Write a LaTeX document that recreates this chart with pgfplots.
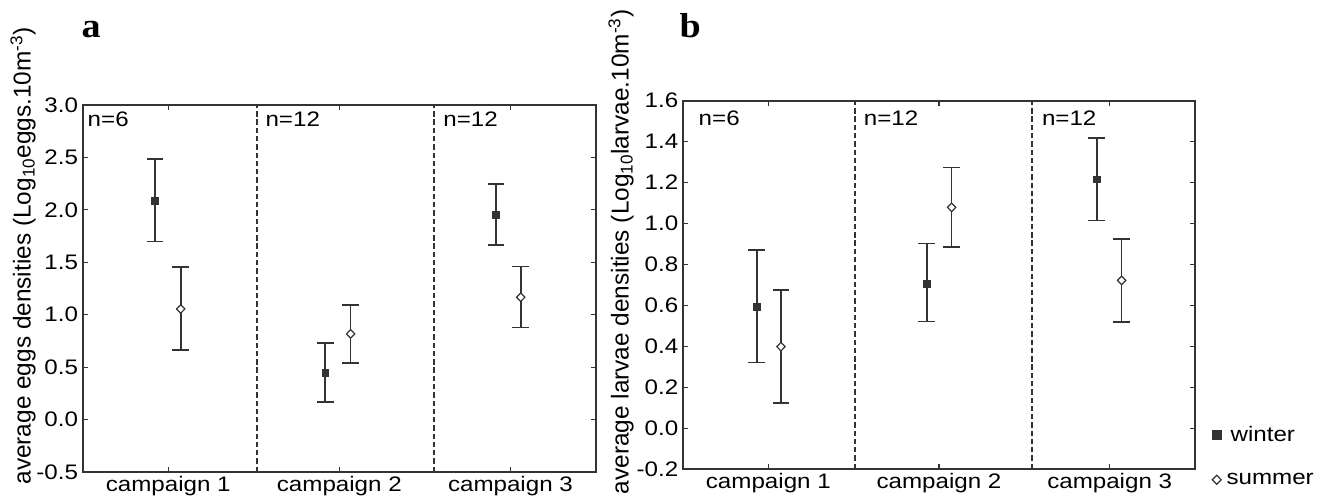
\documentclass[border=0pt]{standalone}
\usepackage{pgfplots}
\usepackage{pgfplotstable}
\pgfplotsset{compat=1.18}
\usepackage{fontspec}
\setmainfont{Liberation Sans}[FakeStretch=1.15]
\newfontfamily\labelfont{Liberation Sans}
\newfontfamily\panelfont{Liberation Serif}[FakeStretch=1.1]
\definecolor{ink}{HTML}{333333}

% panel a
\pgfplotstableread{
x     y     ep    em
0.923 2.085 0.400 0.388
1.918 0.442 0.286 0.276
2.916 1.950 0.297 0.285
}\eggwinter
\pgfplotstableread{
x     y     ep    em
1.073 1.055 0.398 0.391
2.066 0.817 0.276 0.279
3.060 1.167 0.292 0.290
}\eggsummer
% panel b
\pgfplotstableread{
x     y     ep    em
0.932 0.593 0.277 0.272
1.928 0.707 0.196 0.187
2.924 1.216 0.203 0.201
}\larwinter
\pgfplotstableread{
x     y     ep    em
1.074 0.398 0.277 0.274
2.074 1.079 0.194 0.193
3.070 0.722 0.201 0.204
}\larsummer

\tikzset{nlab/.style={anchor=base west, font=\fontsize{15.75}{18}\selectfont, inner sep=0pt}}

\pgfplotsset{
  myaxis/.style={
    scale only axis,
    xmin=0.5, xmax=3.5,
    xtick={1,2,3},
    xticklabels={campaign 1,campaign 2,campaign 3},
    tick align=inside,
    major tick length=3.75pt,
    tick style={ink, line width=0.8pt},
    axis line style={ink, line width=1.4pt},
    ticklabel style={font=\fontsize{15.75}{18}\selectfont, text=black},
    /pgf/number format/.cd, fixed, fixed zerofill, precision=1, assume math mode=true,
    /pgfplots/.cd,
    ylabel style={font=\labelfont\fontsize{18.3}{21}\selectfont, text=black, anchor=center},
    clip=false,
  },
  winter/.style={only marks, mark=square*, mark size=2.6pt,
    mark options={fill=ink, draw=ink, line width=0.5pt}, ink,
    error bars/.cd, y dir=both, y explicit,
    error bar style={ink, line width=1.25pt},
    error mark options={ink, line width=1.2pt, mark size=6.2pt, rotate=90}},
  summer/.style={only marks, mark=diamond*, mark size=3.2pt,
    mark options={fill=white, draw=ink, line width=0.9pt, xscale=1.3}, ink,
    error bars/.cd, y dir=both, y explicit,
    error bar style={ink, line width=1.25pt},
    error mark options={ink, line width=1.2pt, mark size=6.2pt, rotate=90}},
  sep/.style={ink, line width=1.4pt, dash pattern=on 4pt off 2.2pt, forget plot},
}

\begin{document}
\begin{tikzpicture}
\path[use as bounding box] (0pt,0pt) rectangle (1005.75pt,375.75pt);

\node[anchor=base west, inner sep=0pt, font=\panelfont\bfseries\fontsize{26}{28}\selectfont] at (61pt,347.25pt) {a};
\node[anchor=base west, inner sep=0pt, font=\panelfont\bfseries\fontsize{26}{28}\selectfont] at (509.5pt,347.25pt) {b};

% ---------- panel a ----------
\begin{axis}[myaxis,
  at={(62pt,21.75pt)}, anchor=south west,
  width=385pt, height=275.25pt,
  ymin=-0.5, ymax=3.0, ytick={-0.5,0,0.5,1,1.5,2,2.5,3},
  ylabel={average eggs densities (Log\textsubscript{10}eggs.10m\textsuperscript{-3})},
  ylabel style={at={(axis description cs:-0.116,0.589)}},
]
\addplot[sep] coordinates {(1.519,-0.5) (1.519,3.0)};
\addplot[sep] coordinates {(2.553,-0.5) (2.553,3.0)};
\addplot[winter] table[x=x, y=y, y error plus=ep, y error minus=em] {\eggwinter};
\addplot[summer] table[x=x, y=y, y error plus=ep, y error minus=em] {\eggsummer};
\node[nlab] at (axis cs:0.5,3.0) [xshift=3.6pt, yshift=-15.75pt] {n=6};
\node[nlab] at (axis cs:1.519,3.0) [xshift=6.2pt, yshift=-15.75pt] {n=12};
\node[nlab] at (axis cs:2.553,3.0) [xshift=6.9pt, yshift=-15.75pt] {n=12};
\end{axis}

% ---------- panel b ----------
\begin{axis}[myaxis,
  at={(512.25pt,24pt)}, anchor=south west,
  width=384pt, height=276.2pt,
  ymin=-0.2, ymax=1.6, ytick={-0.2,0,0.2,0.4,0.6,0.8,1.0,1.2,1.4,1.6},
  ylabel={average larvae densities (Log\textsubscript{10}larvae.10m\textsuperscript{-3})},
  ylabel style={at={(axis description cs:-0.121,0.589)}},
  legend style={at={(1.033,0.125)}, anchor=north west, draw=none, fill=none,
    font=\fontsize{15.75}{18}\selectfont, row sep=18.5pt, inner sep=0pt},
  legend image post style={mark size=3.4pt},
  legend cell align=left,
]
\addplot[sep] coordinates {(1.51,-0.2) (1.51,1.6)};
\addplot[sep] coordinates {(2.545,-0.2) (2.545,1.6)};
\addplot[winter] table[x=x, y=y, y error plus=ep, y error minus=em] {\larwinter};
\addlegendentry{\hspace{5pt}winter}
\addplot[summer] table[x=x, y=y, y error plus=ep, y error minus=em] {\larsummer};
\addlegendentry{\hspace{2pt}summer}
\node[nlab] at (axis cs:0.5,1.6) [xshift=11.6pt, yshift=-18.4pt] {n=6};
\node[nlab] at (axis cs:1.51,1.6) [xshift=6.2pt, yshift=-18.4pt] {n=12};
\node[nlab] at (axis cs:2.545,1.6) [xshift=7.3pt, yshift=-18.4pt] {n=12};
\end{axis}
\end{tikzpicture}
\end{document}
